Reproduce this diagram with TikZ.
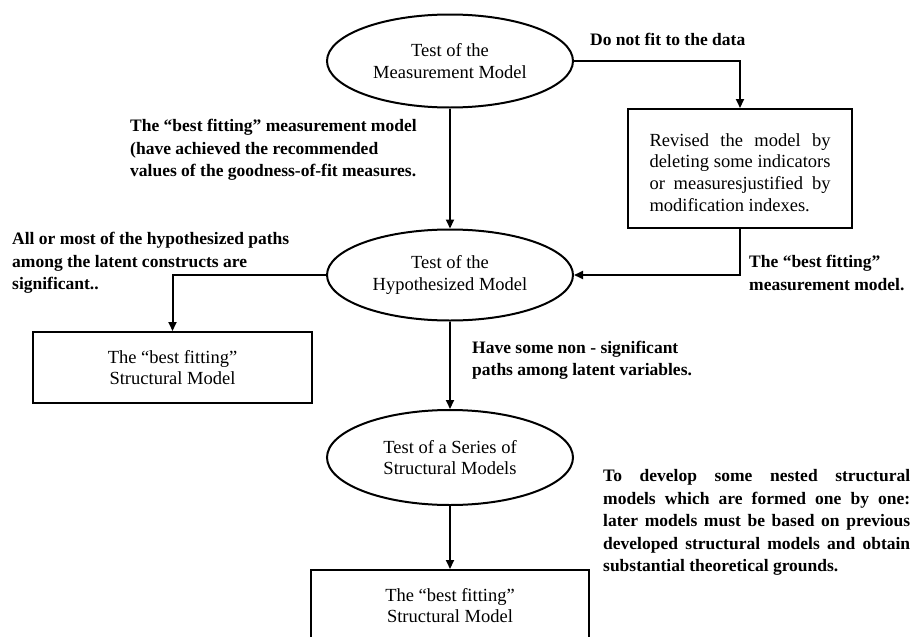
\documentclass[tikz,border=0pt]{standalone}
\usepackage{fontspec}
\setmainfont{Liberation Serif}
\usetikzlibrary{shapes.geometric,arrows.meta}
\tikzset{
  nodefont/.style={font=\fontsize{18.5}{21.8}\selectfont},
  lblfont/.style={font=\bfseries\fontsize{17.5}{22.5}\selectfont},
  ell/.style={ellipse,draw,line width=2pt,inner sep=0pt,minimum width=246pt,nodefont,align=center},
  boxnode/.style={rectangle,draw,line width=2pt,inner sep=0pt,nodefont,align=center},
  lbl/.style={inner sep=0pt,lblfont,align=left,anchor=west},
  arr/.style={line width=2pt,-{Triangle[length=9pt,width=8pt]}},
}
\begin{document}
\begin{tikzpicture}[x=1pt,y=-1pt]
\useasboundingbox (0,0) rectangle (913,637);
\clip (0,0) rectangle (913,637);
% nodes
\node[ell,minimum height=93pt] (e1) at (450,61) {Test of the\\Measurement Model};
\node[boxnode,minimum width=224pt,minimum height=119pt] (box2) at (740,168.5)
  {\parbox{181pt}{\vspace*{8pt}\makebox[181pt][s]{Revised the model by}\\
   \makebox[181pt][s]{deleting some indicators}\\
   \makebox[181pt][s]{or measuresjustified by}\\
   modification indexes.}};
\node[ell,minimum height=91pt] (e2) at (450,275) {Test of the\\Hypothesized Model};
\node[boxnode,minimum width=279pt,minimum height=71pt] (box3) at (172.5,367.5) {The “best fitting”\\Structural Model};
\node[ell,minimum height=95pt] (e3) at (450,457.5) {Test of a Series of\\Structural Models};
\node[boxnode,minimum width=278pt,minimum height=71pt] (box4) at (450,605.5) {The “best fitting”\\Structural Model};
% labels
\node[lbl] (l1) at (590,39) {Do not fit to the data};
\node[lbl] (l2) at (130,150) {The “best fitting” measurement model\\(have achieved the recommended\\values of the goodness-of-fit measures.};
\node[lbl] (l3) at (12,263) {All or most of the hypothesized paths\\among the latent constructs are\\significant..};
\node[lbl] (l4) at (749,273) {The “best fitting”\\measurement model.};
\node[lbl] (l5) at (472,360.5) {Have some non - significant\\paths among latent variables.};
\node[lbl] (l6) at (603,522.5) {\parbox{307pt}{\makebox[307pt][s]{To develop some nested structural}\\
  \makebox[307pt][s]{models which are formed one by one:}\\
  \makebox[307pt][s]{later models must be based on previous}\\
  \makebox[307pt][s]{developed structural models and obtain}\\
  substantial theoretical grounds.}};
% connectors
\draw[arr] (e1.east) -| (box2.north);
\draw[arr] (e1.south) -- (e2.north);
\draw[arr] (box2.south) |- (e2.east);
\draw[arr] (e2.west) -| (box3.north);
\draw[arr] (e2.south) -- (e3.north);
\draw[arr] (e3.south) -- (box4.north);
\end{tikzpicture}
\end{document}
